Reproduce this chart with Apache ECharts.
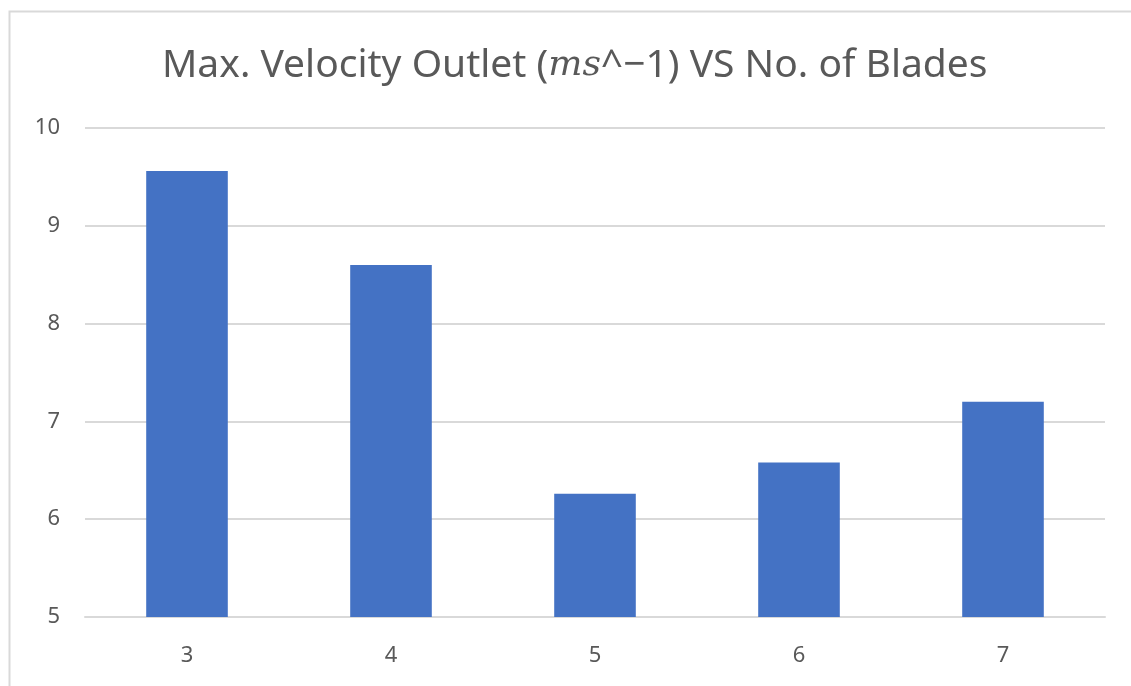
<!DOCTYPE html>
<html>
<head>
<meta charset="utf-8">
<script src="https://cdn.jsdelivr.net/npm/echarts@6/dist/echarts.min.js"></script>
<style>
  html, body { margin: 0; padding: 0; background: #fff; }
  #chart { width: 1131px; height: 686px; }
</style>
</head>
<body>
<div id="chart"></div>
<script>
// blade counts and max outlet velocity
var blades = ["3", "4", "5", "6", "7"];
var velocity = [9.56, 8.60, 6.26, 6.58, 7.20];
var yTicks = [5, 6, 7, 8, 9, 10];

var myChart = echarts.init(document.getElementById("chart"));
var option = {
  backgroundColor: "#fff",
  animation: false,
  title: {
    text: "Max. Velocity Outlet ({m|ms}^−1) VS No. of Blades",
    left: 157,
    top: 41,
    textStyle: {
      fontFamily: "Noto Sans",
      fontSize: 39,
      fontWeight: "normal",
      color: "#595959",
      rich: {
        m: {
          fontFamily: "DejaVu Serif",
          fontStyle: "italic",
          fontSize: 36,
          color: "#595959"
        }
      }
    }
  },
  graphic: [
    {
      // chart frame: only top and left edges are inside the picture
      type: "rect",
      shape: { x: 9.5, y: 11.5, width: 1300, height: 900 },
      style: { fill: "none", stroke: "#d9d9d9", lineWidth: 2 },
      silent: true
    }
  ],
  grid: {
    left: 85,
    right: 26,
    top: 128,
    bottom: 69,
    containLabel: false
  },
  xAxis: {
    type: "category",
    data: blades,
    axisTick: { show: false },
    axisLine: { show: true, lineStyle: { color: "#d9d9d9", width: 2 } },
    axisLabel: {
      color: "#595959",
      fontFamily: "Noto Sans",
      fontSize: 22,
      margin: 28
    }
  },
  yAxis: {
    type: "value",
    min: yTicks[0],
    max: yTicks[yTicks.length - 1],
    interval: 1,
    axisTick: { show: false },
    axisLine: { show: false },
    axisLabel: {
      color: "#595959",
      fontFamily: "Noto Sans",
      fontSize: 22,
      margin: 25
    },
    splitLine: {
      show: true,
      lineStyle: { color: "#d9d9d9", width: 2 }
    }
  },
  series: [
    {
      type: "bar",
      data: velocity,
      barWidth: "40%",
      itemStyle: { color: "#4472c4" }
    }
  ]
};
myChart.setOption(option);
</script>
</body>
</html>
